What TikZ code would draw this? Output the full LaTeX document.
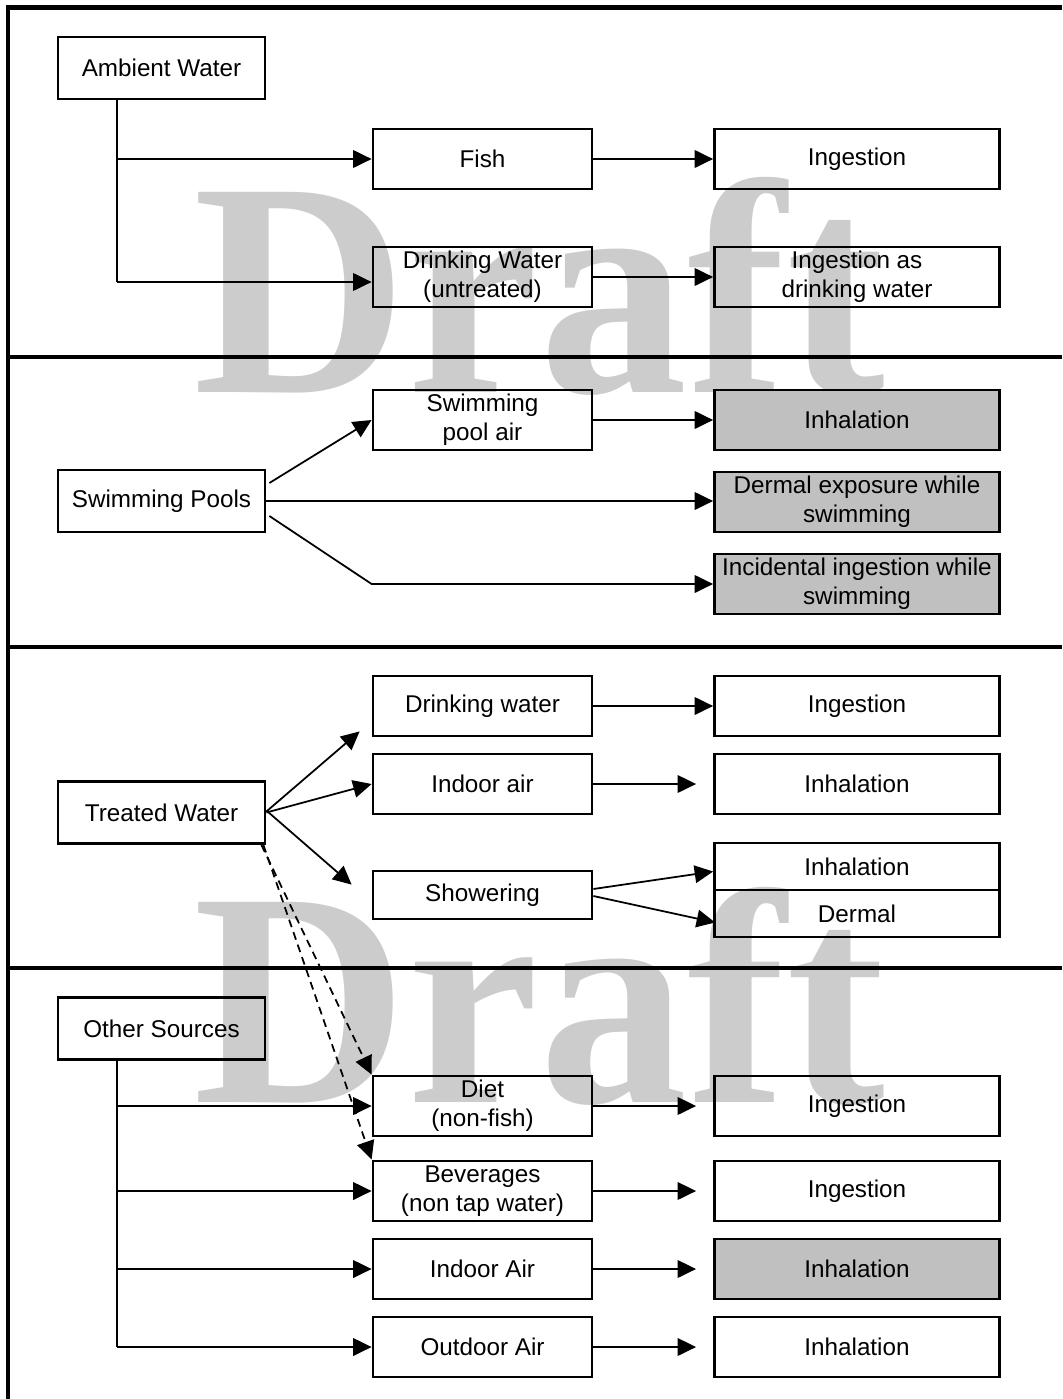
\documentclass[tikz,border=0pt]{standalone}
\usepackage{graphicx}
\usepackage{fontspec}
\setmainfont{Liberation Sans}
\newfontfamily\wmfont{Liberation Serif}
\usetikzlibrary{arrows.meta}
\usetikzlibrary{calc}
\definecolor{wmgray}{RGB}{204,204,204}
\definecolor{boxgray}{RGB}{192,192,192}

\begin{document}
\begin{tikzpicture}[x=0.02cm, y=-0.02cm,
  box/.style={draw, line width=1.6pt, minimum height=1.2cm, inner sep=0pt, align=center,
    font=\fontsize{13.8}{16.3}\selectfont},
  src/.style={box, minimum width=4.14cm, minimum height=1.24cm},
  route/.style={box, minimum width=4.38cm},
  expo/.style={box, minimum width=5.7cm},
  shaded/.style={expo, fill=boxgray},
  link/.style={line width=1pt},
  arr/.style={link, -{Triangle[length=10.5pt,width=10pt]}},
  dasharr/.style={arr, dash pattern=on 4.5pt off 3pt},
  rule/.style={line width=2.8pt}]
\useasboundingbox (0,0) rectangle (1062,1399);
% watermark
\foreach \wy/\wn in {392/top,1102/bot}
  \node[wmgray, anchor=base west, inner sep=0pt,
    font=\wmfont\bfseries\fontsize{174}{174}\selectfont] (draft\wn) at (193,\wy)
    {\scalebox{0.97}[1]{Draft}};
% frame and section rules
\draw[rule] (8,1399) -- (8,7.5) -- (1062,7.5);
\foreach \ry in {357,647,968}
  \draw[rule] (8,\ry) -- (1062,\ry);
% sources
\node[src] (amb) at (161.5,68) {Ambient Water};
\node[src] (pool) at (161.5,501) {Swimming Pools};
\node[src] (treat) at (161.5,812.5) {Treated Water};
\node[src] (other) at (161.5,1028.5) {Other Sources};
% media and routes
\foreach \nm/\ry/\rt/\ex/\st/\gap in {
  fish/159/Fish/Ingestion/expo/0pt,
  dwu/277/{Drinking Water\\(untreated)}/{Ingestion as\\drinking water}/expo/0pt,
  pair/420/{Swimming\\pool air}/Inhalation/shaded/0pt,
  dwt/706/Drinking water/Ingestion/expo/0pt,
  iair/784/Indoor air/Inhalation/expo/9.7pt,
  diet/1106/{Diet\\(non-fish)}/Ingestion/expo/9.7pt,
  bev/1191/{Beverages\\(non tap water)}/Ingestion/expo/9.7pt,
  oair/1269/Indoor Air/Inhalation/shaded/9.7pt,
  out/1347/Outdoor Air/Inhalation/expo/9.7pt}{
  \node[route] (\nm) at (482.5,\ry) {\rt};
  \node[\st] (\nm-exp) at (857,\ry) {\ex};
  \draw[arr, shorten >=\gap] (\nm) -- (\nm-exp);
}
\node[shaded] (derm) at (857,502) {Dermal exposure while\\swimming};
\node[shaded] (incid) at (857,584) {Incidental ingestion while\\swimming};
\node[route, minimum height=0.96cm] (shower) at (482.5,895) {Showering};
\node[expo, minimum height=0.94cm] (inhS) at (857,866.5) {Inhalation};
\node[expo, minimum height=0.94cm] (dermS) at (857,913.5) {Dermal};
% ambient water
\coordinate (ambA) at (117,159);
\coordinate (ambB) at (117,282);
\draw[link] (amb.south -| ambA) -- (ambB);
\draw[arr] (ambA) -- (fish);
\draw[arr] (ambB) -- (ambB -| dwu.west);
% swimming pools
\draw[arr] ($(pool.east)+(3,-18)$) -- (pair.west);
\draw[arr] (pool.east) -- (pool.east -| derm.west);
\draw[arr] ($(pool.east)+(3,15)$) -- (pair.west |- incid) -- (incid);
% treated water
\draw[arr] ($(treat.east)+(0,-1)$) -- ($(dwt.south west)+(-12,-6)$);
\draw[arr] (treat.east) -- (iair.west);
\draw[arr] ($(treat.east)+(0,-2)$) -- ($(shower.north west)+(-20,15)$);
\draw[arr] ($(shower.east)+(0,-6)$) -- ($(inhS.west)+(0,5)$);
\draw[arr] ($(shower.east)+(0,1)$) -- ($(dermS.west)+(2,9)$);
\draw[dasharr] ($(treat.south east)+(-5,0)$) -- (diet.north west);
\draw[dasharr] ($(treat.south east)+(-3,0)$) -- (bev.north west);
% other sources
\coordinate (othT) at (117,1347);
\draw[link] (other.south -| othT) -- (othT);
\foreach \nm in {diet,bev,oair,out}
  \draw[arr] (othT |- \nm) -- (\nm);
\end{tikzpicture}
\end{document}
